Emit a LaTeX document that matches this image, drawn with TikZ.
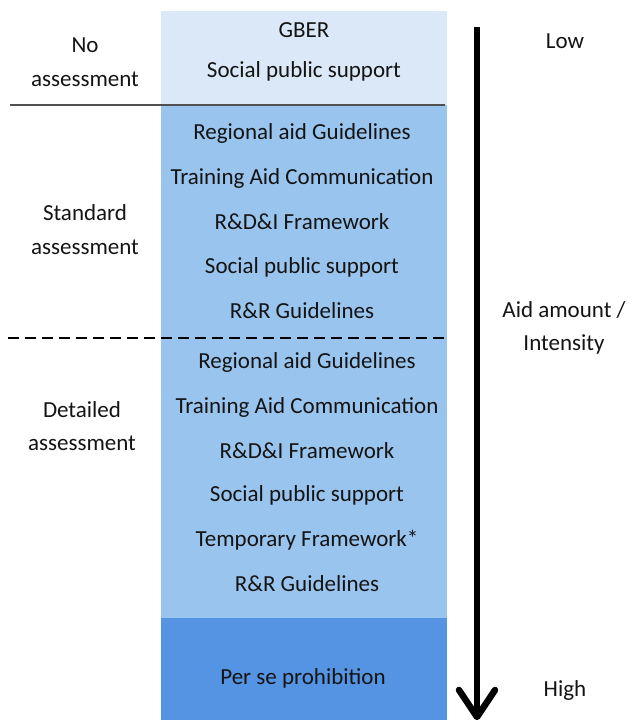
\documentclass[tikz,border=0pt]{standalone}
\usepackage{fontspec}
\setmainfont{Carlito}
\definecolor{lightband}{RGB}{219,232,248}
\definecolor{midband}{RGB}{153,196,238}
\definecolor{darkband}{RGB}{84,148,227}
\definecolor{txt}{RGB}{20,20,20}
\begin{document}
\begin{tikzpicture}[x=1pt,y=-1pt,
  item/.style={font=\fontsize{23}{27}\selectfont, text=txt, inner sep=0pt, anchor=center},
  arrowline/.style={line width=6.5pt, line cap=round, line join=round}]
\useasboundingbox (0,0) rectangle (633,720);
% bands
\fill[lightband] (161,11) rectangle (447,105);
\fill[midband] (161,105) rectangle (447,618);
\fill[darkband] (161,618) rectangle (447,720);
% separators
\coordinate (s1a) at (10,105); \coordinate (s1b) at (445,105);
\draw[line width=1.5pt, draw={rgb,255:red,80;green,80;blue,80}] (s1a) -- (s1b);
\coordinate (s2a) at (8,338); \coordinate (s2b) at (445,338);
\draw[line width=1.3pt, dash pattern=on 11pt off 6pt] (s2a) -- (s2b);
% items
\node[item] (g1) at (304,30) {GBER};
\node[item] (g2) at (304,71) {Social public support};
\node[item] (a1) at (302,133) {Regional aid Guidelines};
\node[item] (a2) at (302,178) {Training Aid Communication};
\node[item] (a3) at (302,222) {R\&D\&I Framework};
\node[item] (a4) at (302,267) {Social public support};
\node[item] (a5) at (302,311) {R\&R Guidelines};
\node[item] (b1) at (307,362) {Regional aid Guidelines};
\node[item] (b2) at (307,407) {Training Aid Communication};
\node[item] (b3) at (307,451) {R\&D\&I Framework};
\node[item] (b4) at (307,495) {Social public support};
\node[item] (b5) at (307,540) {Temporary Framework*};
\node[item] (b6) at (307,584) {R\&R Guidelines};
\node[item] (c1) at (303,678) {Per se prohibition};
% left labels
\node[item] (l1) at (85,45) {No};
\node[item] (l2) at (85,79) {assessment};
\node[item] (l3) at (85,213) {Standard};
\node[item] (l4) at (85,247) {assessment};
\node[item] (l5) at (82,410) {Detailed};
\node[item] (l6) at (82,443) {assessment};
% right labels
\node[item] (r1) at (565,41) {Low};
\node[item] (r2) at (564,310) {Aid amount /};
\node[item] (r3) at (564,344) {Intensity};
\node[item] (r4) at (565,690) {High};
% arrow
\coordinate (ta) at (477,27);
\coordinate (tb) at (477,717);
\coordinate (wl) at (459,690);
\coordinate (wr) at (495,690);
\draw[arrowline, line cap=butt] (ta) -- (tb);
\draw[arrowline] (wl) -- (tb) -- (wr);
\end{tikzpicture}
\end{document}
